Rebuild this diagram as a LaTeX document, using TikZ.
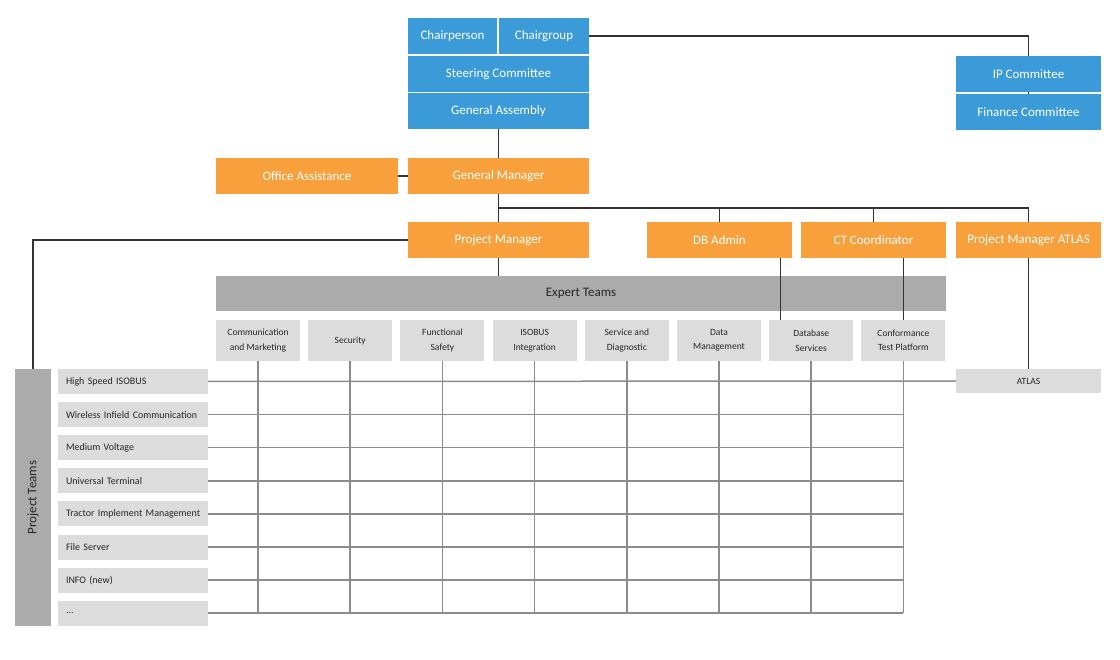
\documentclass[tikz,border=0pt]{standalone}
\usepackage{fontspec}
\setmainfont{Carlito}
\usetikzlibrary{calc}
\definecolor{cblue}{HTML}{3A9BD8}
\definecolor{corange}{HTML}{F8A03C}
\definecolor{cdark}{HTML}{ABABAB}
\definecolor{clight}{HTML}{DCDCDC}
\definecolor{cline}{HTML}{333333}
\definecolor{cgrid}{HTML}{8C8C8C}
\definecolor{ctext}{HTML}{262626}
\tikzset{
  box/.style={rectangle, inner sep=0pt, text=white, font=\fontsize{13}{15}\selectfont, align=center},
  bluebox/.style={box, fill=cblue},
  orangebox/.style={box, fill=corange},
  expbar/.style={box, fill=cdark, text=ctext, font=\fontsize{13}{15}\selectfont},
  expbox/.style={box, fill=clight, text=ctext, font=\fontsize{9.5}{14.5}\selectfont, minimum width=84pt, minimum height=41pt},
  rowbox/.style={rectangle, fill=clight, text=ctext, font=\fontsize{10}{12}\selectfont, align=left, text width=150pt, inner xsep=0pt, inner ysep=0pt, minimum height=25pt, execute at begin node={\hspace*{8pt}}},
  conn/.style={draw=cline, line width=1.3pt},
  gridline/.style={draw=cgrid, line width=1.5pt}
}
\begin{document}
\begin{tikzpicture}[x=1pt,y=-1pt]
\useasboundingbox (0,0) rectangle (1120,660);
% governance
\node[bluebox, minimum width=89pt, minimum height=36pt] (chairp) at (452.5,36) {Chairperson};
\node[bluebox, minimum width=90pt, minimum height=36pt] (chairg) at (544,36) {Chairgroup};
\node[bluebox, minimum width=181pt, minimum height=36pt] (steer) at (498.5,74) {Steering Committee};
\node[bluebox, minimum width=181pt, minimum height=36pt] (ga) at (498.5,111) {General Assembly};
\node[bluebox, minimum width=145pt, minimum height=36pt] (ip) at (1028.5,74) {IP Committee};
\node[bluebox, minimum width=145pt, minimum height=36pt] (fin) at (1028.5,112) {Finance Committee};
% management
\node[orangebox, minimum width=182pt, minimum height=36pt] (oa) at (307,176) {Office Assistance};
\node[orangebox, minimum width=181pt, minimum height=36pt] (gm) at (498.5,176) {General Manager};
\node[orangebox, minimum width=181pt, minimum height=36pt] (pm) at (498.5,240) {Project Manager};
\node[orangebox, minimum width=145pt, minimum height=36pt] (db) at (719.5,240) {DB Admin};
\node[orangebox, minimum width=145pt, minimum height=36pt] (ct) at (873.5,240) {CT Coordinator};
\node[orangebox, minimum width=145pt, minimum height=36pt] (pma) at (1028.5,240) {Project Manager ATLAS};
% expert teams
\node[expbar, minimum width=730pt, minimum height=35pt] (exp) at (581,293.5) {Expert Teams};
\node[expbox] (e1) at (258,340.5) {Communication\\and Marketing};
\node[expbox] (e2) at (350.2,340.5) {Security};
\node[expbox] (e3) at (442.4,340.5) {Functional\\Safety};
\node[expbox] (e4) at (534.6,340.5) {ISOBUS\\Integration};
\node[expbox] (e5) at (626.8,340.5) {Service and\\Diagnostic};
\node[expbox] (e6) at (719,340.5) {Data\\Management};
\node[expbox] (e7) at (811.2,340.5) {Database\\Services};
\node[expbox] (e8) at (903.4,340.5) {Conformance\\Test Platform};
% project teams
\node[box, fill=cdark, text=ctext, minimum width=257pt, minimum height=36pt, rotate=90, font=\fontsize{13}{15}\selectfont] (pt) at (33,497.5) {Project Teams};
\node[rowbox] (r1) at (133,381.5) {High Speed ISOBUS};
\node[rowbox] (r2) at (133,414.6) {Wireless Infield Communication};
\node[rowbox] (r3) at (133,447.7) {Medium Voltage};
\node[rowbox] (r4) at (133,480.8) {Universal Terminal};
\node[rowbox] (r5) at (133,513.9) {Tractor Implement Management};
\node[rowbox] (r6) at (133,547) {File Server};
\node[rowbox] (r7) at (133,580.1) {INFO (new)};
\node[rowbox] (r8) at (133,613.2) {...};
\node[box, fill=clight, text=ctext, font=\fontsize{9.5}{12}\selectfont, minimum width=145pt, minimum height=24pt] (atlas) at (1028.5,381) {ATLAS};
% grid
\coordinate (gridR) at (e8.south);
\foreach \r in {2,...,8} {\draw[gridline] (r\r.east) -- (r\r.east -| gridR);}
\draw[gridline] (r1.east) -- (atlas.west);
\foreach \e in {1,...,8} {\draw[gridline] (e\e.south) -- (e\e.south |- r8.east);}
% connectors
\draw[conn] (chairg.east) -| (ip.north);
\draw[conn] (ip.south) -- (fin.north);
\draw[conn] (ga.south) -- (gm.north);
\draw[conn] (oa.east) -- (gm.west);
\draw[conn] (gm.south) -- (pm.north);
\coordinate (hub) at (498.5,208);
\draw[conn] (hub) -| (pma.north);
\draw[conn] (hub -| db.north) -- (db.north);
\draw[conn] (hub -| ct.north) -- (ct.north);
\draw[conn] (pm.west) -| (pt.east);
\draw[conn] (pm.south) -- (pm.south |- exp.north);
\coordinate (dbdrop) at ([xshift=-12pt]db.south east);
\draw[conn] (dbdrop) -- (dbdrop |- e7.north);
\draw[conn] (e8.north) -- (e8.north |- ct.south);
\draw[conn] (pma.south) -- (atlas.north);
\end{tikzpicture}
\end{document}
